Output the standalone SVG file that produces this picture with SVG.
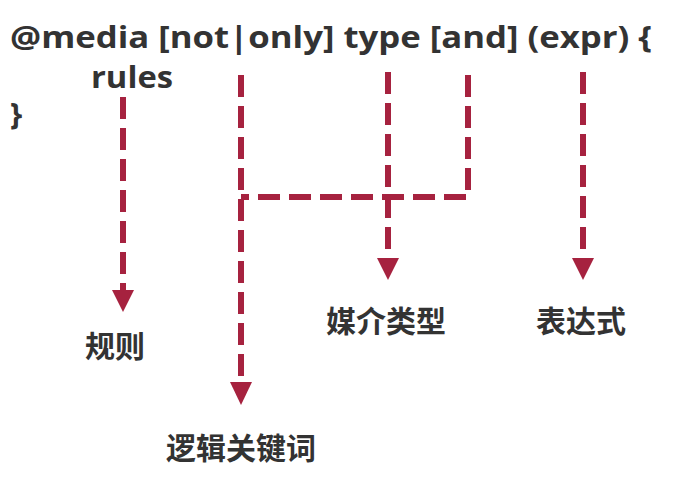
<svg xmlns="http://www.w3.org/2000/svg" width="680" height="485" viewBox="0 0 680 485">
<style>
.code{font-family:"Open Sans","Liberation Sans",sans-serif;font-weight:bold;font-size:31px;fill:#333333}
.lbl{font-family:"Noto Sans CJK SC","Noto Sans",sans-serif;font-weight:bold;font-size:30px;fill:#333333}
.dash{fill:none;stroke:#a6223f;stroke-width:6;stroke-dasharray:22 9}
.head{fill:#a6223f}
</style>
<rect width="680" height="485" fill="#ffffff"/>
<g id="code">
<text class="code" x="10" y="48" textLength="642" lengthAdjust="spacingAndGlyphs">@media [not|only] type [and] (expr) {</text>
<text class="code" x="91" y="88" textLength="82" lengthAdjust="spacingAndGlyphs">rules</text>
<text class="code" x="10" y="125">}</text>
</g>
<g id="connectors">
<path class="dash" d="M123,97 V290"/>
<polygon class="head" points="112,290 134,290 123,312"/>
<path class="dash" d="M241,75 V382"/>
<polygon class="head" points="230,382 252,382 241,405"/>
<path class="dash" d="M388,72 V258"/>
<polygon class="head" points="377,258 399,258 388,280"/>
<path class="dash" d="M468,75 V197 H241"/>
<path class="dash" d="M583,72 V258"/>
<polygon class="head" points="572,258 594,258 583,280"/>
</g>
<g id="rules-label"><text class="lbl" x="85" y="357">规则</text></g>
<g id="logic-label"><text class="lbl" x="166" y="459">逻辑关键词</text></g>
<g id="type-label"><text class="lbl" x="326" y="332">媒介类型</text></g>
<g id="expr-label"><text class="lbl" x="536" y="332">表达式</text></g>
</svg>
